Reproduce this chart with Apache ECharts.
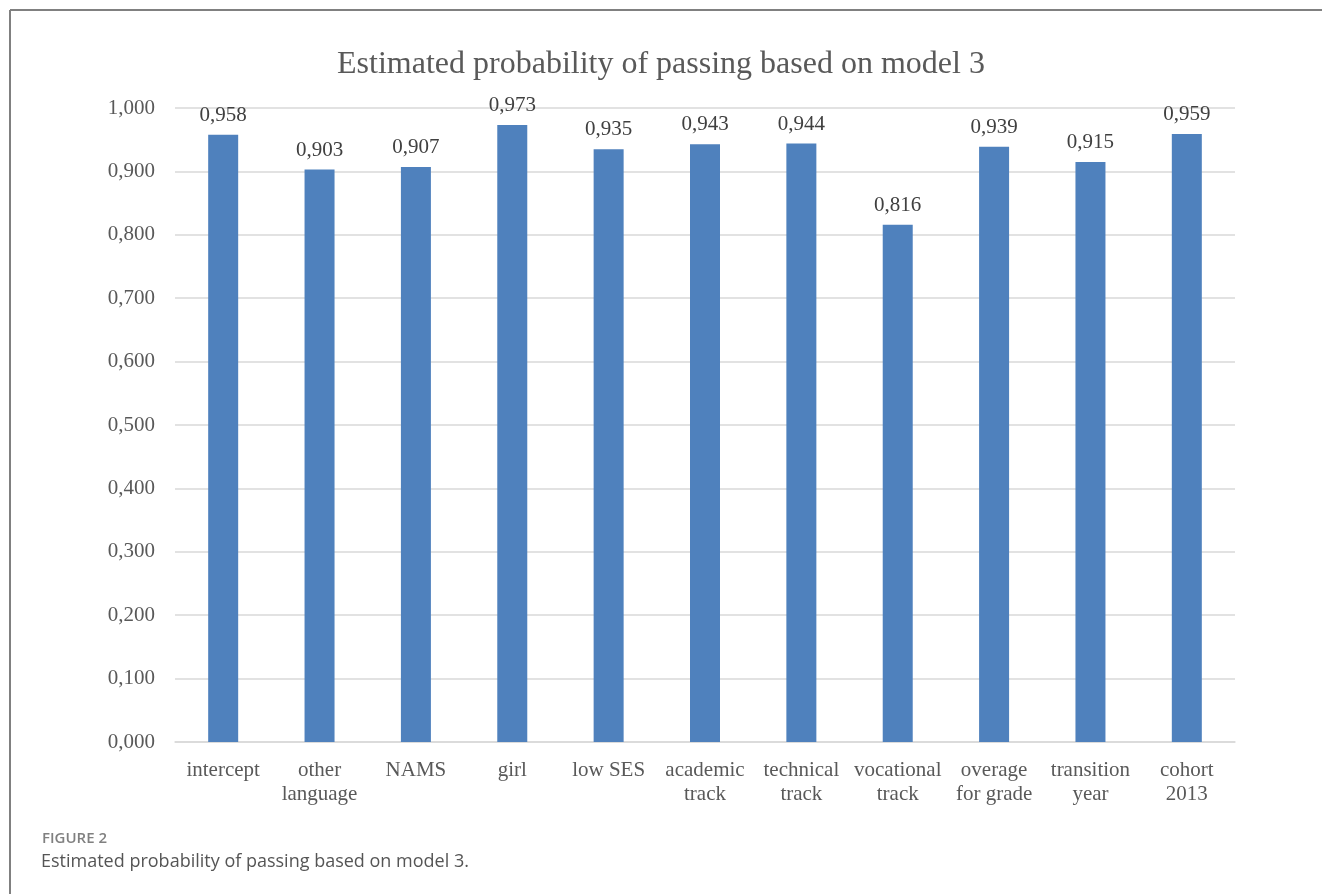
<!DOCTYPE html>
<html>
<head>
<meta charset="utf-8">
<script src="https://cdn.jsdelivr.net/npm/echarts@6/dist/echarts.min.js"></script>
<style>
html,body{margin:0;padding:0;background:#fff;}
#chart{width:1322px;height:894px;}
</style>
</head>
<body>
<div id="chart"></div>
<script>
const categories = ['intercept', 'other\nlanguage', 'NAMS', 'girl', 'low SES', 'academic\ntrack', 'technical\ntrack', 'vocational\ntrack', 'overage\nfor grade', 'transition\nyear', 'cohort\n2013'];
const values = [0.958, 0.903, 0.907, 0.973, 0.935, 0.943, 0.944, 0.816, 0.939, 0.915, 0.959];
const titleText = 'Estimated probability of passing based on model 3';
const figureLabel = 'FIGURE 2';
const captionText = 'Estimated probability of passing based on model 3.';

const fmt = v => v.toFixed(3).replace('.', ',');
const serif = '"Liberation Serif", "Times New Roman", serif';

const chart = echarts.init(document.getElementById('chart'));
chart.setOption({
  backgroundColor: '#fff',
  animation: false,
  title: {
    text: titleText,
    left: 'center',
    top: 44,
    textStyle: { fontFamily: serif, fontSize: 32, fontWeight: 'normal', color: '#595959' }
  },
  grid: { left: 175, right: 87, top: 108, bottom: 152 },
  xAxis: {
    type: 'category',
    data: categories,
    axisLine: { lineStyle: { color: '#d9d9d9', width: 1.5 } },
    axisTick: { show: false },
    axisLabel: { fontFamily: serif, fontSize: 21, color: '#595959', margin: 16, lineHeight: 24, interval: 0 }
  },
  yAxis: {
    type: 'value',
    min: 0, max: 1, interval: 0.1,
    axisLine: { show: false },
    axisTick: { show: false },
    splitLine: { lineStyle: { color: '#d9d9d9', width: 1.5 } },
    axisLabel: { fontFamily: serif, fontSize: 21, color: '#595959', margin: 20, formatter: v => fmt(v) }
  },
  series: [{
    type: 'bar',
    data: values,
    barWidth: 30,
    itemStyle: { color: '#4f81bd' },
    label: {
      show: true, position: 'top', distance: 9,
      fontFamily: serif, fontSize: 21, color: '#404040',
      formatter: p => fmt(p.value)
    }
  }],
  graphic: [
    { type: 'line', shape: { x1: 10, y1: 10, x2: 1322, y2: 10 }, style: { stroke: '#808080', lineWidth: 2 } },
    { type: 'line', shape: { x1: 10, y1: 10, x2: 10, y2: 894 }, style: { stroke: '#808080', lineWidth: 2 } },
    { type: 'text', left: 42, top: 831, style: { text: figureLabel, fontFamily: '"Open Sans", "Noto Sans", sans-serif', fontSize: 15, fontWeight: 600, fill: '#808080' } },
    { type: 'text', left: 41, top: 853, style: { text: captionText, fontFamily: '"Open Sans", "Noto Sans", sans-serif', fontSize: 18, fill: '#555' } }
  ]
});
</script>
</body>
</html>
